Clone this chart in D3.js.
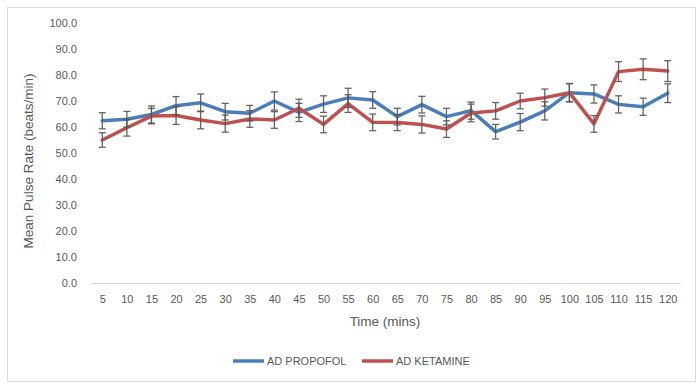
<!DOCTYPE html>
<html><head><meta charset="utf-8">
<script src="https://cdn.jsdelivr.net/npm/d3@7"></script>
<style>
body{margin:0;background:#fff;}
text{font-family:"Liberation Sans",Arial,sans-serif;}
</style></head><body>
<svg id="c" width="700" height="388"></svg>
<script>
const times = [5,10,15,20,25,30,35,40,45,50,55,60,65,70,75,80,85,90,95,100,105,110,115,120];
const propofol = [62.4,63.0,64.8,68.2,69.3,65.9,65.3,70.0,65.6,68.8,71.2,70.4,64.0,68.6,64.0,66.3,58.2,61.9,66.2,73.2,72.7,68.7,67.8,73.0];
const propofolErr = [3.1,3.0,3.3,3.5,3.4,3.2,3.0,3.5,3.5,3.2,3.7,3.2,3.2,3.2,3.2,3.3,2.8,3.3,3.5,3.5,3.5,3.3,3.3,3.6];
const ketamine = [55.0,59.7,64.2,64.4,62.7,61.3,63.1,62.7,67.2,61.0,69.0,61.8,61.7,61.0,59.2,65.4,66.2,70.0,71.3,73.2,61.2,81.3,82.2,81.5];
const ketamineErr = [2.8,3.2,3.0,3.4,3.4,3.3,3.2,3.2,3.5,3.2,3.4,3.2,3.1,3.3,3.2,3.4,3.2,3.0,3.3,3.5,3.2,3.8,4.0,4.0];
const yTicks = [0,10,20,30,40,50,60,70,80,90,100];
const seriesNames = ["AD PROPOFOL","AD KETAMINE"];
const colors = ["#4a7ebb","#c0504d"];

const svg = d3.select("#c");
svg.append("rect").attr("x",7.5).attr("y",7.5).attr("width",688).attr("height",374)
  .attr("fill","#fff").attr("stroke","#d9d9d9");

const x = d3.scalePoint().domain(times).range([90,680]).padding(0.5);
const y = d3.scaleLinear().domain([0,100]).range([283,23]);

// y tick labels
const ya = svg.append("g").attr("transform","translate(90,0)")
  .call(d3.axisLeft(y).tickValues(yTicks).tickFormat(d3.format(".1f")).tickSize(0).tickPadding(13));
ya.select(".domain").remove();
ya.selectAll("text").attr("font-size",11).attr("fill","#595959").style("font-family","Liberation Sans");

// x axis
const xa = svg.append("g").attr("transform","translate(0,283)")
  .call(d3.axisBottom(x).tickSize(0).tickPadding(12));
xa.select(".domain").attr("stroke","#d9d9d9");
xa.selectAll("text").attr("font-size",11).attr("fill","#595959").style("font-family","Liberation Sans");

const series = [
  {name:seriesNames[0], vals:propofol, err:propofolErr, color:colors[0]},
  {name:seriesNames[1], vals:ketamine, err:ketamineErr, color:colors[1]}
];
const line = d3.line().x((d,i)=>x(times[i])).y(d=>y(d));
series.forEach(s=>{
  svg.append("path").datum(s.vals).attr("d",line).attr("fill","none")
    .attr("stroke",s.color).attr("stroke-width",3.5).attr("stroke-linejoin","round").attr("stroke-linecap","round");
});
series.forEach(s=>{
  const g = svg.append("g").attr("stroke","#555").attr("stroke-width",1.3).attr("opacity",0.9);
  s.vals.forEach((v,i)=>{
    const cx = x(times[i]), y1 = y(v+s.err[i]), y2 = y(v-s.err[i]);
    g.append("line").attr("x1",cx).attr("x2",cx).attr("y1",y1).attr("y2",y2);
    g.append("line").attr("x1",cx-3.5).attr("x2",cx+3.5).attr("y1",y1).attr("y2",y1);
    g.append("line").attr("x1",cx-3.5).attr("x2",cx+3.5).attr("y1",y2).attr("y2",y2);
  });
});

// axis titles
svg.append("text").attr("x",385).attr("y",326).attr("text-anchor","middle")
  .attr("font-size",13.5).attr("fill","#595959").text("Time (mins)");
svg.append("text").attr("transform","translate(33,161) rotate(-90)").attr("text-anchor","middle")
  .attr("font-size",13.5).attr("fill","#595959").text("Mean Pulse Rate (beats/min)");

// legend
const legX = [233,362];
series.forEach((s,i)=>{
  svg.append("line").attr("x1",legX[i]).attr("x2",legX[i]+31).attr("y1",361).attr("y2",361)
    .attr("stroke",s.color).attr("stroke-width",3.5);
  svg.append("text").attr("x",legX[i]+34).attr("y",365).attr("font-size",11).attr("fill","#595959").text(s.name);
});
</script></body></html>
